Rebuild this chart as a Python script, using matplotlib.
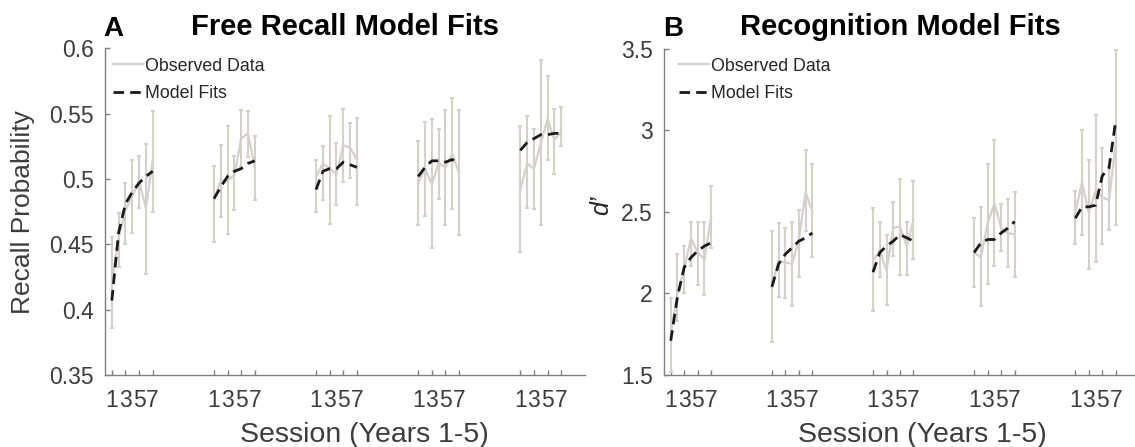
import matplotlib
matplotlib.use("Agg")
import matplotlib.pyplot as plt
from matplotlib.lines import Line2D

plt.rcParams['font.family'] = ['Liberation Sans', 'DejaVu Sans']

# --- Data ---
sessions = [1, 2, 3, 4, 5, 6, 7]
years = [1, 2, 3, 4, 5]
tick_sessions = [1, 3, 5, 7]
tick_labels = ['1', '3', '5', '7']

# Panel A: free recall probability (one row per year)
recall_obs = [
    [0.421, 0.455, 0.476, 0.487, 0.498, 0.478, 0.514],
    [0.484, 0.499, 0.499, 0.503, 0.531, 0.535, 0.509],
    [0.502, 0.512, 0.508, 0.504, 0.526, 0.524, 0.515],
    [0.497, 0.508, 0.496, 0.512, 0.509, 0.519, 0.505],
    [0.492, 0.512, 0.508, 0.527, 0.546, 0.530, 0.536],
]
recall_low = [
    [0.386, 0.433, 0.450, 0.459, 0.478, 0.427, 0.475],
    [0.452, 0.471, 0.458, 0.476, 0.509, 0.517, 0.484],
    [0.475, 0.484, 0.466, 0.480, 0.498, 0.501, 0.480],
    [0.465, 0.472, 0.447, 0.485, 0.465, 0.477, 0.457],
    [0.444, 0.478, 0.477, 0.465, 0.515, 0.504, 0.525],
]
recall_high = [
    [0.456, 0.474, 0.497, 0.515, 0.518, 0.527, 0.552],
    [0.510, 0.526, 0.541, 0.518, 0.553, 0.552, 0.533],
    [0.515, 0.525, 0.548, 0.528, 0.554, 0.543, 0.547],
    [0.529, 0.544, 0.546, 0.538, 0.553, 0.562, 0.553],
    [0.541, 0.548, 0.538, 0.591, 0.579, 0.554, 0.555],
]
recall_fit = [
    [0.407, 0.459, 0.481, 0.490, 0.497, 0.502, 0.506],
    [0.485, 0.494, 0.502, 0.506, 0.508, 0.512, 0.514],
    [0.492, 0.506, 0.508, 0.508, 0.513, 0.511, 0.509],
    [0.502, 0.509, 0.514, 0.514, 0.513, 0.515, 0.512],
    [0.522, 0.528, 0.531, 0.534, 0.534, 0.535, 0.535],
]

# Panel B: recognition d'
recog_obs = [
    [1.75, 2.00, 2.15, 2.34, 2.25, 2.21, 2.47],
    [2.04, 2.20, 2.19, 2.18, 2.33, 2.62, 2.50],
    [2.20, 2.26, 2.14, 2.40, 2.41, 2.29, 2.45],
    [2.25, 2.22, 2.43, 2.55, 2.40, 2.37, 2.36],
    [2.50, 2.68, 2.49, 2.63, 2.59, 2.57, 2.92],
]
recog_low = [
    [1.52, 1.83, 2.00, 2.17, 2.05, 1.99, 2.28],
    [1.70, 1.98, 1.97, 1.92, 2.10, 2.38, 2.22],
    [1.89, 2.10, 1.93, 2.23, 2.11, 2.11, 2.21],
    [2.04, 1.92, 2.06, 2.17, 2.26, 2.16, 2.10],
    [2.30, 2.36, 2.15, 2.19, 2.30, 2.39, 2.42],
]
recog_high = [
    [1.97, 2.24, 2.29, 2.44, 2.44, 2.44, 2.66],
    [2.38, 2.43, 2.40, 2.44, 2.51, 2.88, 2.79],
    [2.52, 2.44, 2.36, 2.56, 2.70, 2.44, 2.69],
    [2.46, 2.53, 2.79, 2.94, 2.55, 2.58, 2.62],
    [2.63, 3.00, 2.82, 3.09, 2.89, 2.76, 3.49],
]
recog_fit = [
    [1.71, 1.98, 2.16, 2.22, 2.26, 2.29, 2.31],
    [2.04, 2.18, 2.24, 2.28, 2.32, 2.34, 2.37],
    [2.13, 2.25, 2.29, 2.32, 2.36, 2.34, 2.32],
    [2.25, 2.31, 2.33, 2.33, 2.37, 2.40, 2.44],
    [2.46, 2.53, 2.53, 2.54, 2.72, 2.77, 3.06],
]

# --- Style ---
OBS_COLOR = '#d5d1c9'
FIT_COLOR = '#1a1a1a'
AXIS_COLOR = '#808080'
TEXT_COLOR = '#3c3c3c'
GROUP_GAP = 15  # x offset between years


def draw_panel(ax, obs, low, high, fit, ylim, yticks, yticklabels, xlim):
    xt, xl = [], []
    for g, year in enumerate(years):
        x = [g * GROUP_GAP + s for s in sessions]
        err = [[o - lo for o, lo in zip(obs[g], low[g])],
               [hi - o for o, hi in zip(obs[g], high[g])]]
        ax.errorbar(x, obs[g], yerr=err, color=OBS_COLOR, ecolor=OBS_COLOR,
                    lw=1.6, elinewidth=1.5, capsize=1.2, capthick=1.5, zorder=2)
        ax.plot(x, fit[g], color=FIT_COLOR, lw=2.0, dashes=(3.8, 2.2), zorder=3)
        xt += [g * GROUP_GAP + s for s in tick_sessions]
        xl += tick_labels

    ax.set_xlim(*xlim)
    ax.set_ylim(*ylim)
    ax.set_xticks(xt)
    ax.set_xticklabels(xl)
    ax.set_yticks(yticks)
    ax.set_yticklabels(yticklabels)

    for side in ['top', 'right']:
        ax.spines[side].set_visible(False)
    for side in ['left', 'bottom']:
        ax.spines[side].set_color(AXIS_COLOR)
        ax.spines[side].set_linewidth(1.0)
    ax.tick_params(direction='in', length=3.5, width=1.0, color=AXIS_COLOR,
                   labelcolor=TEXT_COLOR, labelsize=16.5)
    ax.tick_params(axis='x', pad=10)
    ax.tick_params(axis='y', pad=8)
    ax.set_facecolor('none')

    handles = [Line2D([], [], color=OBS_COLOR, lw=1.6),
               Line2D([], [], color=FIT_COLOR, lw=2.0, dashes=(3.8, 2.2))]
    return handles


fig = plt.figure(figsize=(11.35, 4.47), dpi=100)
axA = fig.add_axes([105 / 1135, 72 / 447, 480 / 1135, 326.5 / 447])
axB = fig.add_axes([664 / 1135, 72 / 447, 472 / 1135, 326.5 / 447])

hA = draw_panel(axA, recall_obs, recall_low, recall_high, recall_fit,
                (0.35, 0.6), [0.35, 0.4, 0.45, 0.5, 0.55, 0.6],
                ['0.35', '0.4', '0.45', '0.5', '0.55', '0.6'], (0, 70.5))
hB = draw_panel(axB, recog_obs, recog_low, recog_high, recog_fit,
                (1.5, 3.5), [1.5, 2, 2.5, 3, 3.5],
                ['1.5', '2', '2.5', '3', '3.5'], (0, 70))

for ax, h, dx in [(axA, hA, 8), (axB, hB, 15)]:
    w = ax.get_position().width * 1135
    ax.legend(h, ['Observed Data', 'Model Fits'], loc='upper left',
              bbox_to_anchor=(dx / w, 0.972), frameon=False, fontsize=12.8,
              handlelength=1.7, handletextpad=0.12, labelspacing=0.6,
              borderaxespad=0, borderpad=0, labelcolor='#262626')

axA.set_title('Free Recall Model Fits', fontsize=21, fontweight='bold', pad=10)
axB.set_title('Recognition Model Fits', fontsize=21, fontweight='bold', pad=10)
fig.text(103 / 1135, 1 - 36 / 447, 'A', fontsize=20, fontweight='bold', va='baseline')
fig.text(663 / 1135, 1 - 36 / 447, 'B', fontsize=20, fontweight='bold', va='baseline')

for ax, xc in [(axA, 0.54), (axB, 0.547)]:
    ax.set_xlabel('Session (Years 1-5)', fontsize=20.5, color=TEXT_COLOR)
    ax.xaxis.label.set_va('baseline')
    ax.xaxis.set_label_coords(xc, -0.205)

axA.set_ylabel('Recall Probability', fontsize=19, color=TEXT_COLOR)
axA.yaxis.label.set_va('center')
axA.yaxis.set_label_coords(-0.17, 0.5)

axB.set_ylabel('d\u2019', fontsize=18, style='italic', color='#262626')
axB.yaxis.label.set_va('center')
axB.yaxis.set_label_coords(-0.134, 0.52)

fig.savefig('out.png', dpi=100)
